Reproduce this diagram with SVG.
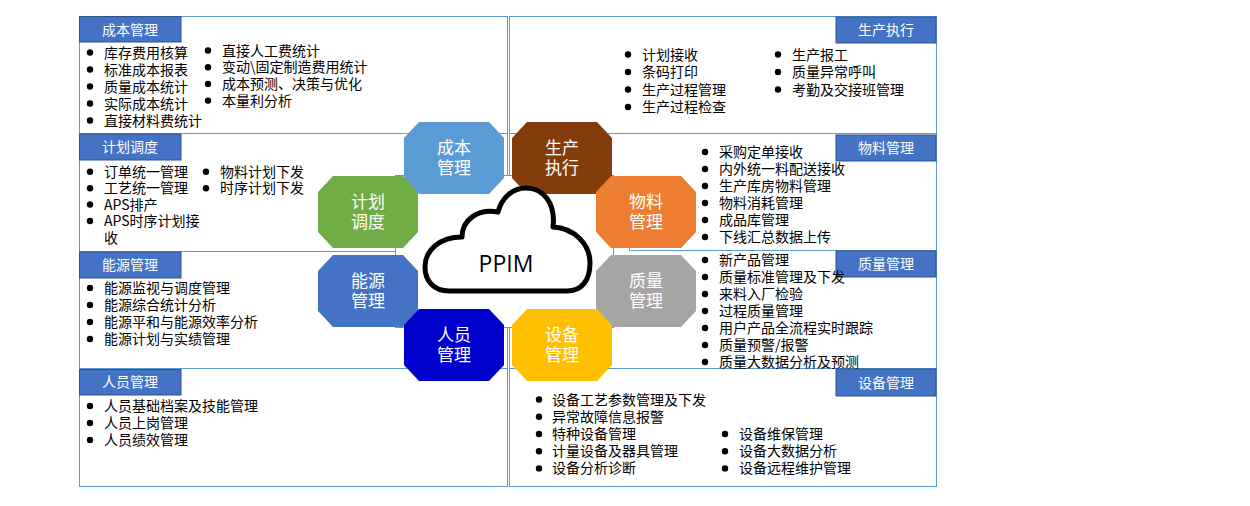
<svg xmlns="http://www.w3.org/2000/svg" width="1250" height="506" viewBox="0 0 1250 506">
<style>
.frame{fill:none;stroke:#5B9BD5;stroke-width:1}
.hdr{fill:#4472C4;stroke:#2F528F;stroke-width:1}
.ht{font-family:"Noto Sans CJK SC",sans-serif;font-size:14px;fill:#fff;text-anchor:middle}
.it{font-family:"Noto Sans CJK SC",sans-serif;font-size:14px;fill:#000}
.ot{font-family:"Noto Sans CJK SC",sans-serif;font-size:17px;fill:#fff;text-anchor:middle}
</style>
<defs>
<circle id="b" r="3.2" fill="#000"/>
<polygon id="o" points="15,0 85,0 100,16 100,56 85,72 15,72 0,56 0,16"/>
</defs>
<rect width="1250" height="506" fill="#fff"/>
<g id="connectors">
<rect class="frame" x="79.5" y="16.5" width="428" height="470"/>
<rect class="frame" x="509.5" y="16.5" width="427" height="470"/>
<line class="frame" x1="79.5" y1="133.5" x2="507.5" y2="133.5"/>
<line class="frame" x1="79.5" y1="251.5" x2="395.5" y2="251.5"/>
<line class="frame" x1="79.5" y1="368.5" x2="507.5" y2="368.5"/>
<line class="frame" x1="509.5" y1="133.5" x2="936.5" y2="133.5"/>
<line class="frame" x1="629.5" y1="250.5" x2="936.5" y2="250.5"/>
<line class="frame" x1="629.5" y1="246.5" x2="629.5" y2="250.5"/>
<line class="frame" x1="509.5" y1="368.5" x2="936.5" y2="368.5"/>
</g>
<g id="panel-cost">
<rect class="hdr" x="79.5" y="16.5" width="101.5" height="25.5"/>
<text class="ht" x="130" y="34.5">成本管理</text>
<use href="#b" x="90" y="52.5"/><use href="#b" x="90" y="69.5"/><use href="#b" x="90" y="86.5"/><use href="#b" x="90" y="103.5"/><use href="#b" x="90" y="120.5"/>
<text class="it"><tspan x="104" y="57.5">库存费用核算</tspan><tspan x="104" y="74.5">标准成本报表</tspan><tspan x="104" y="91.5">质量成本统计</tspan><tspan x="104" y="108.5">实际成本统计</tspan><tspan x="104" y="125.5">直接材料费统计</tspan></text>
<use href="#b" x="208" y="50.5"/><use href="#b" x="208" y="67.2"/><use href="#b" x="208" y="83.9"/><use href="#b" x="208" y="100.6"/>
<text class="it"><tspan x="222" y="55.5">直接人工费统计</tspan><tspan x="222" y="72.2">变动\固定制造费用统计</tspan><tspan x="222" y="88.9">成本预测、决策与优化</tspan><tspan x="222" y="105.6">本量利分析</tspan></text>
</g>
<g id="panel-production">
<rect class="hdr" x="836" y="17" width="100" height="26"/>
<text class="ht" x="886" y="35">生产执行</text>
<use href="#b" x="628" y="54.5"/><use href="#b" x="628" y="72"/><use href="#b" x="628" y="89.5"/><use href="#b" x="628" y="107"/>
<text class="it"><tspan x="642" y="59.5">计划接收</tspan><tspan x="642" y="77">条码打印</tspan><tspan x="642" y="94.5">生产过程管理</tspan><tspan x="642" y="112">生产过程检查</tspan></text>
<use href="#b" x="778" y="54.5"/><use href="#b" x="778" y="72"/><use href="#b" x="778" y="89.5"/>
<text class="it"><tspan x="792" y="59.5">生产报工</tspan><tspan x="792" y="77">质量异常呼叫</tspan><tspan x="792" y="94.5">考勤及交接班管理</tspan></text>
</g>
<g id="panel-plan">
<rect class="hdr" x="79.5" y="134" width="101.5" height="26"/>
<text class="ht" x="130" y="152">计划调度</text>
<use href="#b" x="90" y="171.7"/><use href="#b" x="90" y="188.3"/><use href="#b" x="90" y="204.5"/><use href="#b" x="90" y="221"/>
<text class="it"><tspan x="104" y="176.7">订单统一管理</tspan><tspan x="104" y="193.3">工艺统一管理</tspan><tspan x="104" y="209.5">APS排产</tspan><tspan x="104" y="226">APS时序计划接</tspan><tspan x="104" y="242.5">收</tspan></text>
<use href="#b" x="206" y="171.7"/><use href="#b" x="206" y="188.3"/>
<text class="it"><tspan x="220" y="176.7">物料计划下发</tspan><tspan x="220" y="193.3">时序计划下发</tspan></text>
</g>
<g id="panel-material">
<rect class="hdr" x="836" y="135" width="100" height="26"/>
<text class="ht" x="886" y="153">物料管理</text>
<use href="#b" x="705" y="152"/><use href="#b" x="705" y="169"/><use href="#b" x="705" y="186"/><use href="#b" x="705" y="203"/><use href="#b" x="705" y="220"/><use href="#b" x="705" y="237"/>
<text class="it"><tspan x="719" y="157">采购定单接收</tspan><tspan x="719" y="174">内外统一料配送接收</tspan><tspan x="719" y="191">生产库房物料管理</tspan><tspan x="719" y="208">物料消耗管理</tspan><tspan x="719" y="225">成品库管理</tspan><tspan x="719" y="242">下线汇总数据上传</tspan></text>
</g>
<g id="panel-energy">
<rect class="hdr" x="79.5" y="252" width="101.5" height="26"/>
<text class="ht" x="130" y="270">能源管理</text>
<use href="#b" x="90" y="288"/><use href="#b" x="90" y="305"/><use href="#b" x="90" y="322"/><use href="#b" x="90" y="339"/>
<text class="it"><tspan x="104" y="293">能源监视与调度管理</tspan><tspan x="104" y="310">能源综合统计分析</tspan><tspan x="104" y="327">能源平和与能源效率分析</tspan><tspan x="104" y="344">能源计划与实绩管理</tspan></text>
</g>
<g id="panel-quality">
<rect class="hdr" x="836" y="251" width="100" height="26"/>
<text class="ht" x="886" y="269">质量管理</text>
<use href="#b" x="705" y="260"/><use href="#b" x="705" y="277"/><use href="#b" x="705" y="294"/><use href="#b" x="705" y="311"/><use href="#b" x="705" y="328"/><use href="#b" x="705" y="345"/><use href="#b" x="705" y="362"/>
<text class="it"><tspan x="719" y="265">新产品管理</tspan><tspan x="719" y="282">质量标准管理及下发</tspan><tspan x="719" y="299">来料入厂检验</tspan><tspan x="719" y="316">过程质量管理</tspan><tspan x="719" y="333">用户产品全流程实时跟踪</tspan><tspan x="719" y="350">质量预警/报警</tspan><tspan x="719" y="367">质量大数据分析及预测</tspan></text>
</g>
<g id="panel-staff">
<rect class="hdr" x="79.5" y="369.5" width="101.5" height="25.5"/>
<text class="ht" x="130" y="387">人员管理</text>
<use href="#b" x="90" y="406"/><use href="#b" x="90" y="423"/><use href="#b" x="90" y="440"/>
<text class="it"><tspan x="104" y="411">人员基础档案及技能管理</tspan><tspan x="104" y="428">人员上岗管理</tspan><tspan x="104" y="445">人员绩效管理</tspan></text>
</g>
<g id="panel-equipment">
<rect class="hdr" x="836" y="369" width="100" height="27"/>
<text class="ht" x="886" y="387.5">设备管理</text>
<use href="#b" x="539" y="399.5"/><use href="#b" x="539" y="416.7"/><use href="#b" x="539" y="434"/><use href="#b" x="539" y="451.2"/><use href="#b" x="539" y="468.4"/>
<text class="it"><tspan x="552" y="404.5">设备工艺参数管理及下发</tspan><tspan x="552" y="421.7">异常故障信息报警</tspan><tspan x="552" y="439">特种设备管理</tspan><tspan x="552" y="456.2">计量设备及器具管理</tspan><tspan x="552" y="473.4">设备分析诊断</tspan></text>
<use href="#b" x="725" y="434"/><use href="#b" x="725" y="451.2"/><use href="#b" x="725" y="468.4"/>
<text class="it"><tspan x="739" y="439">设备维保管理</tspan><tspan x="739" y="456.2">设备大数据分析</tspan><tspan x="739" y="473.4">设备远程维护管理</tspan></text>
</g>
<g id="center-frame">
<rect x="395.5" y="175.5" width="218" height="152" fill="#fff" stroke="#5B9BD5" stroke-width="1"/>
</g>
<g id="oct-cost"><use href="#o" x="404" y="122" fill="#5B9BD5"/><text class="ot"><tspan x="454" y="154">成本</tspan><tspan x="454" y="174">管理</tspan></text></g>
<g id="oct-production"><use href="#o" x="512" y="122" fill="#843C0C"/><text class="ot"><tspan x="562" y="154">生产</tspan><tspan x="562" y="174">执行</tspan></text></g>
<g id="oct-plan"><use href="#o" x="318" y="176" fill="#70AD47"/><text class="ot"><tspan x="368" y="208">计划</tspan><tspan x="368" y="228">调度</tspan></text></g>
<g id="oct-material"><use href="#o" x="596" y="176" fill="#ED7D31"/><text class="ot"><tspan x="646" y="208">物料</tspan><tspan x="646" y="228">管理</tspan></text></g>
<g id="oct-energy"><use href="#o" x="318" y="255" fill="#4472C4"/><text class="ot"><tspan x="368" y="287">能源</tspan><tspan x="368" y="307">管理</tspan></text></g>
<g id="oct-quality"><use href="#o" x="596" y="255" fill="#A5A5A5"/><text class="ot"><tspan x="646" y="287">质量</tspan><tspan x="646" y="307">管理</tspan></text></g>
<g id="oct-staff"><use href="#o" x="404" y="309" fill="#0000CC"/><text class="ot"><tspan x="454" y="341">人员</tspan><tspan x="454" y="361">管理</tspan></text></g>
<g id="oct-equipment"><use href="#o" x="512" y="309" fill="#FFC000"/><text class="ot"><tspan x="562" y="341">设备</tspan><tspan x="562" y="361">管理</tspan></text></g>
<g id="cloud">
<path d="M 449 291 C 434 291 425 281 425 267 C 425 250 440 237 462 237 C 462 220 478 208 498 212 C 502 197 513 188 526 188 C 543 188 556 203 553 227 C 574 228 590 244 590 263 C 590 280 582 291 567 291 Z" fill="#fff" stroke="#000" stroke-width="5" stroke-linejoin="round"/>
<text x="506" y="272" font-family="Open Sans, sans-serif" font-size="23" fill="#000" text-anchor="middle">PPIM</text>
</g>
</svg>
